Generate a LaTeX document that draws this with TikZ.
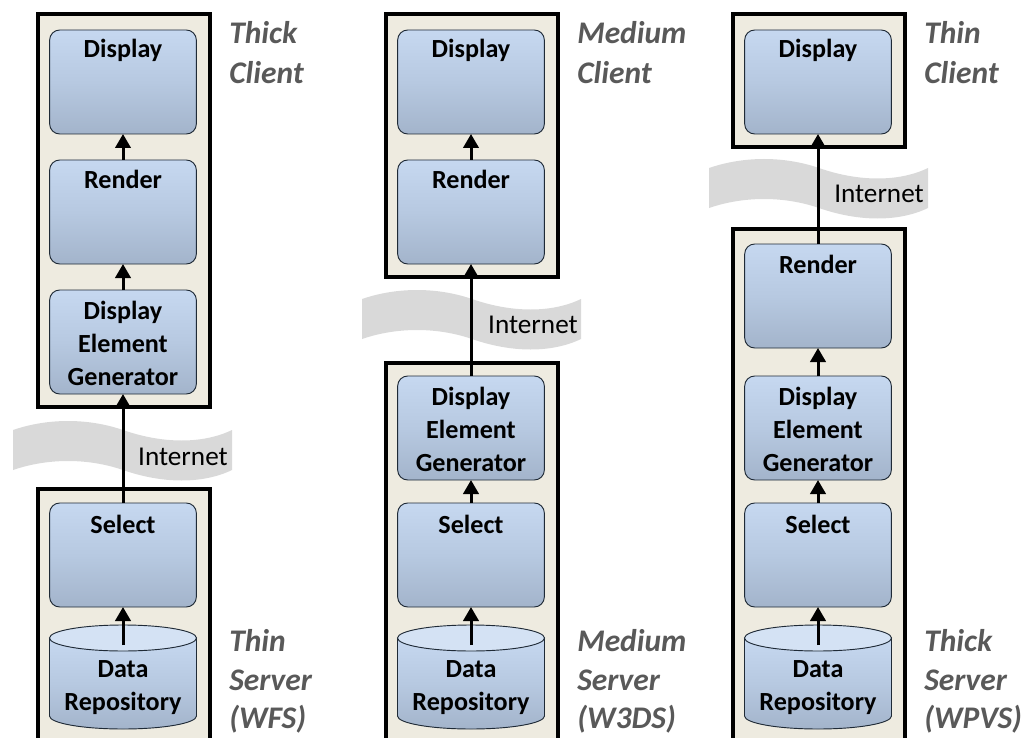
\documentclass[tikz,border=0pt]{standalone}
\usepackage{fontspec}
\setmainfont{Carlito}
\usetikzlibrary{arrows.meta}
\definecolor{panel}{HTML}{EEEBE0}
\definecolor{boxtop}{HTML}{C6D8F0}
\definecolor{boxmid}{HTML}{B7C9E1}
\definecolor{boxbot}{HTML}{A3B4CB}
\definecolor{captiongrey}{HTML}{595959}
\definecolor{wavegrey}{HTML}{D9D9D9}
\definecolor{boxline}{HTML}{1F2A36}
\tikzset{
  x=0.75pt,y=-0.75pt,
  tier/.style={draw=black,line width=2.6pt,fill=panel},
  stage/.style={draw=boxline,line width=0.7pt,rounded corners=7.5pt,top color=boxtop,bottom color=boxbot,middle color=boxmid,minimum width=110pt,minimum height=78pt,inner sep=0pt,outer sep=0pt},
  stagetxt/.style={font=\fontsize{19.6}{24.75}\selectfont\bfseries,align=center,inner sep=0pt,text=black},
  caption/.style={font=\fontsize{23.6}{30}\selectfont\bfseries\itshape,align=left,inner sep=0pt,text=captiongrey,anchor=north west},
  lowcaption/.style={caption,font=\fontsize{23.6}{29}\selectfont\bfseries\itshape},
  nettxt/.style={font=\fontsize{20.4}{22}\selectfont,inner sep=0pt,text=black},
  flow/.style={draw=black,line width=2.25pt,-{Triangle[width=11.5pt,length=10.5pt]}},
  wave/.style={fill=wavegrey,draw=none},
}
\newcommand{\cylshape}[1]{%
  \shade[top color=boxtop,bottom color=boxbot,middle color=boxmid,draw=boxline,line width=0.7pt]
    (#1,638) -- (#1+147,638) -- (#1+147,716) arc[start angle=0,end angle=180,x radius=73.5,y radius=13] -- cycle;
  \fill[fill=boxtop!75!white,draw=boxline,line width=0.7pt] (#1+73.5,638) ellipse[x radius=73.5,y radius=13];
}
\newcommand{\wavepath}[2]{%
  \fill[wave,shift={(#1,#2)}] (0,430) .. controls (35,418) and (75,418) .. (110,430)
    .. controls (150,444) and (190,444) .. (219,430) -- (219,470)
    .. controls (190,484) and (150,484) .. (110,470)
    .. controls (75,458) and (35,458) .. (0,470) -- cycle;
}
\begin{document}
\begin{tikzpicture}
\useasboundingbox (0,0) rectangle (1024,738);
\clip (0,0) rectangle (1024,738);
% tiers
\draw[tier] (38,14) rectangle (210,407);
\draw[tier] (38,489) rectangle (210,760);
\draw[tier] (386,14) rectangle (558,277);
\draw[tier] (386,363) rectangle (558,760);
\draw[tier] (733,14) rectangle (905,147);
\draw[tier] (733,229) rectangle (905,760);
% internet bands
\wavepath{13}{0}
\wavepath{362}{-131}
\wavepath{709}{-262}
% column 1
\node[stage] (a1) at (123,82) {};
\node[stage] (a2) at (123,212) {};
\node[stage] (a3) at (123,342) {};
\node[stage] (a4) at (123,555) {};
\cylshape{49.5}
\coordinate (a5s) at (123,645);
% column 2
\node[stage] (b1) at (471,82) {};
\node[stage] (b2) at (471,212) {};
\node[stage] (b3) at (471,428) {};
\node[stage] (b4) at (471,555) {};
\cylshape{397.5}
\coordinate (b5s) at (471,645);
% column 3
\node[stage] (c1) at (818,82) {};
\node[stage] (c2) at (818,296) {};
\node[stage] (c3) at (818,428) {};
\node[stage] (c4) at (818,555) {};
\cylshape{744.5}
\coordinate (c5s) at (818,645);
% stage labels
\foreach \n/\x in {a/123,b/471,c/818}{
  \node[stagetxt,anchor=base] (\n1t) at (\x,58) {Display};
  \node[stagetxt,anchor=base] (\n4t) at (\x,533) {Select};
  \node[stagetxt] (\n5t) at (\x,688) {Data\\Repository};
}
\node[stagetxt,anchor=base] (a2t) at (123,189) {Render};
\node[stagetxt,anchor=base] (b2t) at (471,189) {Render};
\node[stagetxt,anchor=base] (c2t) at (818,273) {Render};
\node[stagetxt] (a3t) at (123,343) {Display\\Element\\Generator};
\node[stagetxt] (b3t) at (471,429) {Display\\Element\\Generator};
\node[stagetxt] (c3t) at (818,429) {Display\\Element\\Generator};
% connectors
\draw[flow] (a2.north) -- (a1.south);
\draw[flow] (a3.north) -- (a2.south);
\draw[flow] (a4.north) -- (a3.south);
\draw[flow] (a5s) -- (a4.south);
\draw[flow] (b2.north) -- (b1.south);
\draw[flow] (b3.north) -- (b2.south);
\draw[flow] (b4.north) -- (b3.south);
\draw[flow] (b5s) -- (b4.south);
\draw[flow] (c2.north) -- (c1.south);
\draw[flow] (c3.north) -- (c2.south);
\draw[flow] (c4.north) -- (c3.south);
\draw[flow] (c5s) -- (c4.south);
% internet labels
\node[nettxt,anchor=base] (n1) at (183,465) {Internet};
\node[nettxt,anchor=base] (n2) at (533,333) {Internet};
\node[nettxt,anchor=base] (n3) at (879,203) {Internet};
% captions
\node[caption] (k1) at (229,21) {Thick\\Client};
\node[caption] (k2) at (577,21) {Medium\\Client};
\node[caption] (k3) at (924,21) {Thin\\Client};
\node[lowcaption] (k4) at (229,629) {Thin\\Server\\(WFS)};
\node[lowcaption] (k5) at (577,629) {Medium\\Server\\(W3DS)};
\node[lowcaption] (k6) at (924,629) {Thick\\Server\\(WPVS)};
\end{tikzpicture}
\end{document}
